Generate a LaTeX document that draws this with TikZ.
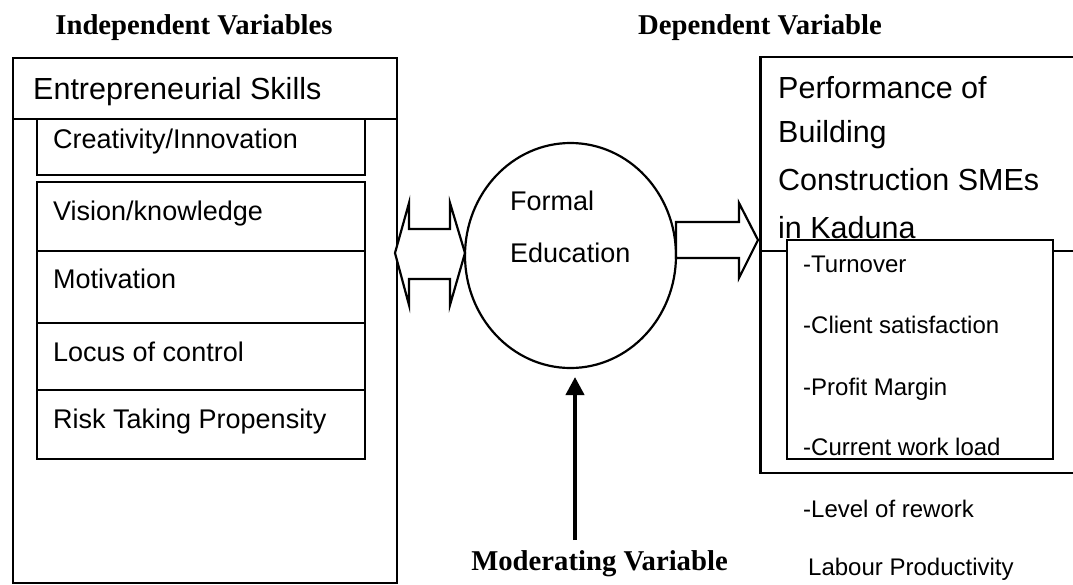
\documentclass[tikz,border=0pt]{standalone}
\usepackage{fontspec}
\setmainfont{Liberation Serif}
\newfontfamily\lsans{Liberation Sans}
\usetikzlibrary{shapes.geometric,arrows.meta}
\tikzset{
  box/.style={draw, line width=2.2pt, fill=white, rectangle, inner sep=0pt, anchor=north west},
  lbl/.style={anchor=base west, inner sep=0pt, font=\lsans\fontsize{27}{30}\selectfont},
  hdr/.style={anchor=base west, inner sep=0pt, font=\lsans\fontsize{30.5}{34}\selectfont},
  itm/.style={anchor=base west, inner sep=0pt, font=\lsans\fontsize{24}{28}\selectfont},
  ttl/.style={anchor=base, inner sep=0pt, font=\bfseries\fontsize{28.7}{32}\selectfont},
  blockarrow/.style={draw, line width=2.2pt, fill=white, line join=miter},
}
\begin{document}
\begin{tikzpicture}[x=1pt,y=-1pt]
\useasboundingbox (0,0) rectangle (1073,584);
% titles
\node[ttl] (tind) at (194,34) {Independent Variables};
\node[ttl] (tdep) at (760,34) {Dependent Variable};
\node[ttl] (tmod) at (599.5,570) {Moderating Variable};
% left outer box
\node[box, minimum width=384, minimum height=525] (lbox) at (12,57) {};
\node[box, minimum width=384, minimum height=61] (lhead) at (12,57) {};
\node[hdr] (thead) at (33,99) {Entrepreneurial Skills};
% inner boxes
\node[box, minimum width=328, minimum height=56] (b1) at (36,118) {};
\node[box, minimum width=328, minimum height=69] (b2) at (36,181) {};
\node[box, minimum width=328, minimum height=72] (b3) at (36,250) {};
\node[box, minimum width=328, minimum height=67] (b4) at (36,322) {};
\node[box, minimum width=328, minimum height=69] (b5) at (36,389) {};
\node[lbl] (t1) at (53,148) {Creativity/Innovation};
\node[lbl] (t2) at (53,220) {Vision/knowledge};
\node[lbl] (t3) at (53,288) {Motivation};
\node[lbl] (t4) at (53,361) {Locus of control};
\node[lbl] (t5) at (53,428) {Risk Taking Propensity};
% double arrow
\draw[blockarrow] (395,253) -- (409,203) -- (409,229) -- (450,229) -- (450,203) -- (465,253)
  -- (450,305) -- (450,279) -- (409,279) -- (409,305) -- cycle;
% formal education
\node[ellipse, draw, line width=2.2pt, minimum width=211, minimum height=225] (fe) at (570.5,255.5) {};
\node[lbl] (tfe1) at (510,210) {Formal};
\node[lbl] (tfe2) at (510,262) {Education};
% right arrow
\draw[blockarrow] (676,222) -- (739,222) -- (739,203) -- (758,240) -- (739,278) -- (739,258) -- (676,258) -- cycle;
% right box
\draw[line width=2.2pt] (1080,57) -- (760,57) -- (760,473) -- (1080,473);
\draw[line width=2.2pt] (760,251) -- (1080,251);
\draw[line width=3.2pt] (760.5,56) -- (760.5,474);
\begin{scope}
\clip (765,60) rectangle (1073,239);
\node[hdr] (tp1) at (778,98) {Performance of};
\node[hdr] (tp2) at (778,142) {Building};
\node[hdr] (tp3) at (778,190) {Construction SMEs};
\node[hdr] (tp4) at (778,238) {in Kaduna};
\end{scope}
\node[box, minimum width=266, minimum height=219] (ibox) at (786,239) {};
\node[itm] (i1) at (803,272) {-Turnover};
\node[itm] (i2) at (803,333) {-Client satisfaction};
\node[itm] (i3) at (803,395) {-Profit Margin};
\node[itm] (i4) at (803,455) {-Current work load};
\node[itm] (i5) at (803,517) {-Level of rework};
\node[itm] (i6) at (808,575) {Labour Productivity};
% moderating arrow
\coordinate (modbase) at (575,540);
\coordinate (modtip) at (575,377);
\draw[line width=4pt, -{Triangle[width=18pt,length=18pt]}] (modbase) -- (modtip);
\end{tikzpicture}
\end{document}
